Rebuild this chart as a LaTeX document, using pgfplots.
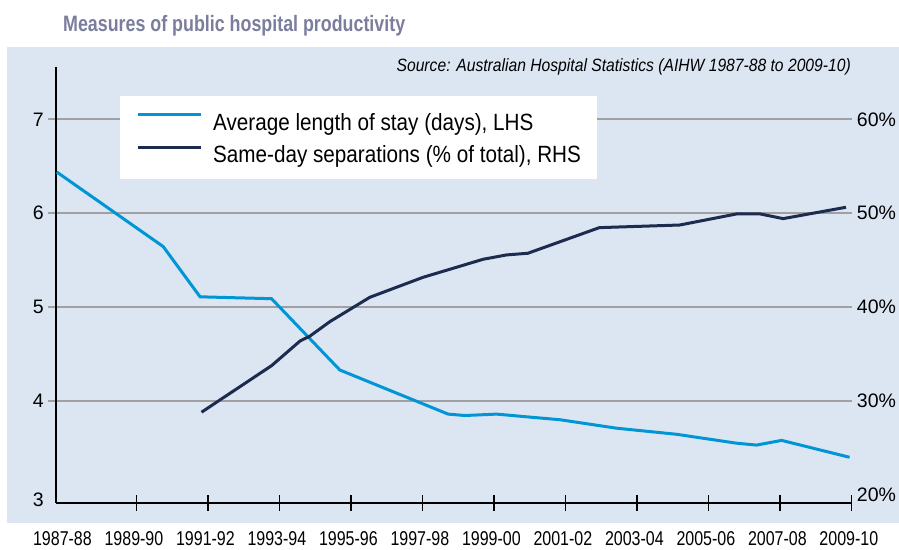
\documentclass[border=0pt]{standalone}
\usepackage{fontspec}
\setmainfont{Liberation Sans}
\newfontfamily\condA{Liberation Sans}[FakeStretch=0.88]
\newfontfamily\condB{Liberation Sans}[FakeStretch=0.8]
\usepackage{pgfplots}
\pgfplotsset{compat=1.18}
\definecolor{bg}{HTML}{DCE6F3}
\definecolor{alos}{HTML}{0096D6}
\definecolor{sameday}{HTML}{1C2B4E}
\definecolor{gridc}{HTML}{A0A0A0}
\definecolor{titlec}{HTML}{7B7D9D}
\begin{document}
\begin{tikzpicture}
\useasboundingbox (0pt,0pt) rectangle (899pt,549pt);
\fill[bg] (7pt,26pt) rectangle (899pt,502pt);
\node[anchor=base west, inner sep=0pt, text=titlec, font=\condB\bfseries\fontsize{22.3}{25}\selectfont] at (63pt,517pt) {Measures of public hospital productivity};
\node[anchor=base east, inner sep=0pt, font=\condA\fontsize{17.8}{20}\selectfont\itshape] at (851pt,477pt) {Source: Australian Hospital Statistics (AIHW 1987-88 to 2009-10)};

\begin{axis}[
  scale only axis, width=795.7pt, height=436pt,
  at={(56pt,46.3pt)}, anchor=south west,
  xmin=0, xmax=22.26, ymin=2.916, ymax=7.562,
  axis x line*=bottom, axis y line*=left,
  axis line style={-, line width=1.8pt, black},
  clip=false,
  ytick={4,5,6,7}, yticklabels={4,5,6,7},
  extra y ticks={2.95}, extra y tick labels={3},
  extra y tick style={grid=none, ytick style={draw=none}},
  ymajorgrids, grid style={gridc, line width=2pt},
  xtick={2.25,4.25,...,22.25},
  xticklabels={1989-90,1991-92,1993-94,1995-96,1997-98,1999-00,2001-02,2003-04,2005-06,2007-08,2009-10},
  extra x ticks={0.25}, extra x tick labels={1987-88},
  extra x tick style={xtick style={draw=none}},
  tick align=center, major tick length=16pt,
  xtick style={black, line width=1.5pt},
  ytick style={gridc, line width=2pt},
  yticklabel style={font=\fontsize{19.5}{22}\selectfont, anchor=east, inner sep=0pt, xshift=-4pt},
  xticklabel style={font=\condB\fontsize{20}{22}\selectfont, anchor=base, inner sep=0pt, xshift=-2.5pt, yshift=-34.5pt},
]
\addplot[alos, line width=3pt] coordinates {
(0.02,6.44) (3.0,5.645) (4.03,5.11) (5.0,5.10) (6.03,5.09) (7.94,4.33)
(10.97,3.86) (11.44,3.845) (12.33,3.86) (13.2,3.83) (14.1,3.80) (15.68,3.71)
(17.36,3.645) (19.04,3.55) (19.6,3.53) (20.3,3.58) (22.2,3.40)};
\end{axis}

\begin{axis}[
  scale only axis, width=795.7pt, height=436pt,
  at={(56pt,46.3pt)}, anchor=south west,
  xmin=0, xmax=22.26, ymin=19.16, ymax=65.62,
  hide x axis, axis y line*=right,
  y axis line style={draw=none},
  ytick={20,30,40,50,60}, yticklabels={20\%,30\%,40\%,50\%,60\%},
  major tick length=0pt, ytick style={draw=none},
  yticklabel style={font=\fontsize{19.5}{22}\selectfont, anchor=west, inner sep=0pt, xshift=5pt},
  legend style={at={(rel axis cs:0.0804,0.9328)}, anchor=north west, draw=none, fill=white,
    font=\condA\fontsize{23.5}{26}\selectfont, inner xsep=16pt, inner ysep=10pt, row sep=2.1pt,
    nodes={inner sep=0pt, text height=24pt, text depth=6.3pt}},
  legend cell align=left,
  legend image code/.code={\draw[#1] (0pt,6.7pt) -- (63pt,6.7pt); \path (74pt,0pt);},
]
\addlegendimage{alos, line width=3pt}
\addlegendentry{Average length of stay (days), LHS}
\addplot[sameday, line width=3pt] coordinates {
(4.07,28.8) (6.03,33.76) (6.83,36.4) (7.1,36.9) (7.66,38.45) (8.78,41.05)
(10.27,43.18) (11.95,45.1) (12.6,45.56) (13.2,45.74) (15.2,48.47) (17.45,48.75)
(19.04,49.93) (19.7,49.93) (20.34,49.43) (22.1,50.64)};
\addlegendentry{Same-day separations (\% of total), RHS}
\end{axis}
\end{tikzpicture}
\end{document}
